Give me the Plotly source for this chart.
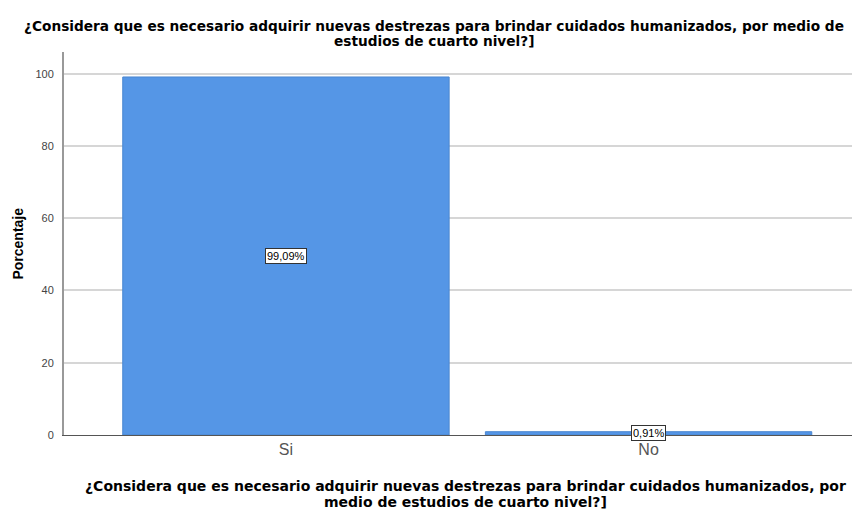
import plotly.graph_objects as go

categories = ["Si", "No"]
values = [99.09, 0.91]
labels = ["99,09%", "0,91%"]
y_ticks = [0, 20, 40, 60, 80, 100]
title_lines = ["¿Considera que es necesario adquirir nuevas destrezas para brindar cuidados humanizados, por medio de",
               "estudios de cuarto nivel?]"]
xtitle_lines = ["¿Considera que es necesario adquirir nuevas destrezas para brindar cuidados humanizados, por",
                "medio de estudios de cuarto nivel?]"]
y_title = "Porcentaje"

FONT = "Liberation Sans, Arial, sans-serif"
TFONT = "DejaVu Sans, Verdana, sans-serif"

fig = go.Figure()
fig.add_trace(go.Bar(
    x=categories, y=values,
    marker=dict(color="#5596E6", line=dict(color="#4a86d0", width=1)),
    hoverinfo="skip",
))

for c, v, t in zip(categories, values, labels):
    fig.add_annotation(
        x=c, y=v / 2, text=t, showarrow=False,
        font=dict(family=FONT, size=11, color="#000"),
        bgcolor="white", bordercolor="#333", borderwidth=1, borderpad=1,
    )

# titles as separate lines (tight line spacing)
for txt, yp in zip(title_lines, [1.068, 1.030]):
    fig.add_annotation(
        xref="paper", yref="paper", x=0.465, y=yp, text=txt, showarrow=False,
        xanchor="center", yanchor="middle",
        font=dict(family=TFONT, size=13.7, color="#000", weight="bold"),
    )
for txt, yp in zip(xtitle_lines, [-0.134, -0.174]):
    fig.add_annotation(
        xref="paper", yref="paper", x=0.504, y=yp, text=txt, showarrow=False,
        xanchor="center", yanchor="middle",
        font=dict(family=TFONT, size=14, color="#000", weight="bold"),
    )
fig.add_annotation(
    xref="paper", yref="paper", x=-0.059, y=0.5, text=y_title, showarrow=False,
    textangle=-90, xanchor="center", yanchor="middle",
    font=dict(family=FONT, size=14, color="#000", weight="bold"),
)

fig.update_layout(
    width=852, height=504,
    margin=dict(l=56, r=0, t=44, b=77, autoexpand=False),
    paper_bgcolor="white", plot_bgcolor="white",
    bargap=0.1,
    showlegend=False,
    font=dict(family=FONT),
)
fig.update_xaxes(
    range=[-0.612, 1.583],
    showline=True, linecolor="#555", linewidth=1,
    ticks="", tickfont=dict(family=FONT, size=16, color="#555"),
    showgrid=False,
)
fig.update_yaxes(
    range=[0, 106],
    tickvals=y_ticks,
    showline=True, linecolor="#999", linewidth=2,
    ticks="", tickfont=dict(family=FONT, size=11, color="#444"),
    ticklabelstandoff=6,
    showgrid=True, gridcolor="#d6d6d6", gridwidth=1.5,
    zeroline=False,
)

fig.write_html("out.html")
